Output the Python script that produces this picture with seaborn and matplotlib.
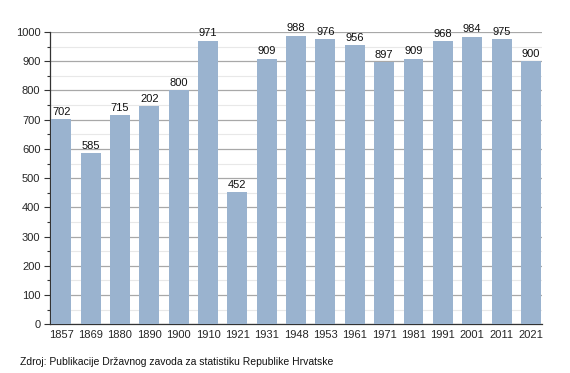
import matplotlib
matplotlib.use("Agg")
import matplotlib.pyplot as plt
import seaborn as sns
import pandas as pd
from matplotlib.ticker import MultipleLocator

years = ["1857", "1869", "1880", "1890", "1900", "1910", "1921", "1931", "1948",
         "1953", "1961", "1971", "1981", "1991", "2001", "2011", "2021"]
values = [702, 585, 715, 747, 800, 971, 452, 909, 988, 976, 956, 897, 909, 968, 984, 975, 900]
labels = ["702", "585", "715", "202", "800", "971", "452", "909", "988", "976", "956",
          "897", "909", "968", "984", "975", "900"]
source = "Zdroj: Publikacije Državnog zavoda za statistiku Republike Hrvatske"

sns.set_theme(style="white")
plt.rcParams['font.family'] = ['Liberation Sans', 'DejaVu Sans']

df = pd.DataFrame({"year": years, "value": values})
fig = plt.figure(figsize=(5.70, 3.73), dpi=100)
ax = fig.add_axes([0.088, 0.131, 0.863, 0.783])

sns.barplot(data=df, x="year", y="value", color="#9ab3cf", saturation=1,
            width=0.68, ax=ax, zorder=3, edgecolor="none", linewidth=0)

ax.set_ylim(0, 1000)
ax.set_xlim(-0.38, 16.38)
ax.yaxis.set_major_locator(MultipleLocator(100))
ax.yaxis.set_minor_locator(MultipleLocator(50))
ax.grid(axis="y", which="major", color="#a8a8a8", linewidth=0.9, zorder=0)
ax.grid(axis="y", which="minor", color="#e8e8e8", linewidth=0.8, zorder=0)
ax.set_axisbelow(True)
for s in ["top", "right"]:
    ax.spines[s].set_visible(False)
ax.spines["left"].set_color("#333333")
ax.spines["bottom"].set_color("#333333")
ax.spines["left"].set_linewidth(0.9)
ax.spines["bottom"].set_linewidth(0.9)
ax.tick_params(axis="y", which="major", left=True, length=4, width=0.8, color="#333333",
               labelsize=8, pad=3)
ax.tick_params(axis="y", which="minor", left=True, length=2, width=0.8, color="#333333")
ax.tick_params(axis="x", bottom=False, length=0, labelsize=8, pad=4)
ax.set_xlabel("")
ax.set_ylabel("")

for i, (v, lab) in enumerate(zip(values, labels)):
    ax.text(i, v + 8, lab, ha="center", va="bottom", fontsize=8, color="#111111")

fig.text(0.035, 0.029, source, fontsize=7.5, color="#111111", ha="left", va="center")

fig.savefig("out.png", dpi=100)
